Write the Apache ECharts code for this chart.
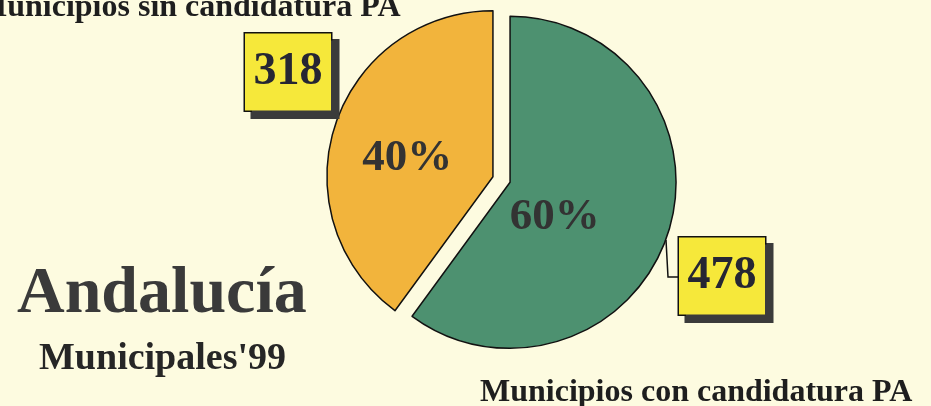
<!DOCTYPE html>
<html><head><meta charset="utf-8">
<script src="https://cdn.jsdelivr.net/npm/echarts@6/dist/echarts.min.js"></script>
<style>html,body{margin:0;padding:0;background:#fdfbe0;}#c{width:931px;height:406px;}</style>
</head><body><div id="c"></div>
<script>
var categories = ['Municipios con candidatura PA', 'Municipios sin candidatura PA'];
var counts = [478, 318];
var percentLabels = ['60%', '40%'];
var sliceColors = ['#4d9170', '#f2b43c'];
var titleMain = 'Andalucía';
var titleSub = "Municipales'99";

var chart = echarts.init(document.getElementById('c'));
var serif = '"Liberation Serif", "Times New Roman", serif';
var pctShift = [[-37, 8], [-4, 8]];
var boxPos = [[722, 276], [288, 72]];

chart.setOption({
  backgroundColor: '#fdfbe0',
  animation: false,
  title: [
    {text: titleMain, left: 12, top: 257, textStyle: {fontFamily: serif, fontSize: 66, fontWeight: 'bold', color: '#3a3a3a'}},
    {text: titleSub, left: 34, top: 335, textStyle: {fontFamily: serif, fontSize: 38, fontWeight: 'bold', color: '#262626'}},
    {text: categories[1], left: -28, top: -13, textStyle: {fontFamily: serif, fontSize: 32, fontWeight: 'bold', color: '#1e1e1e'}},
    {text: categories[0], left: 475, top: 372, textStyle: {fontFamily: serif, fontSize: 32, fontWeight: 'bold', color: '#1e1e1e'}}
  ],
  series: [
    {
      type: 'pie',
      center: [501.5, 179.5],
      radius: 166,
      startAngle: 90,
      clockwise: true,
      selectedMode: 'multiple',
      selectedOffset: 9,
      emphasis: {disabled: true},
      silent: true,
      itemStyle: {borderColor: '#111', borderWidth: 1.5},
      label: {
        show: true, position: 'inside',
        formatter: function (p) { return percentLabels[p.dataIndex]; },
        fontFamily: serif, fontSize: 45, fontWeight: 'bold', color: '#333'
      },
      labelLayout: function (p) {
        return {dx: pctShift[p.dataIndex][0], dy: pctShift[p.dataIndex][1]};
      },
      labelLine: {show: false},
      data: counts.map(function (v, i) {
        return {name: categories[i], value: v, selected: true, itemStyle: {color: sliceColors[i]}};
      })
    },
    {
      type: 'pie',
      center: [501.5, 179.5],
      radius: 166,
      startAngle: 90,
      clockwise: true,
      emphasis: {disabled: true},
      silent: true,
      itemStyle: {color: 'rgba(0,0,0,0)', borderWidth: 0},
      label: {
        show: true, position: 'outside',
        formatter: function (p) { return String(counts[p.dataIndex]); },
        fontFamily: serif, fontSize: 46, fontWeight: 'bold', color: '#262633',
        lineHeight: 46,
        backgroundColor: '#f6e83a',
        borderColor: '#111', borderWidth: 1.5,
        padding: [16, 8, 15, 8],
        width: 70, align: 'center',
        shadowColor: '#3b3b3b', shadowBlur: 0, shadowOffsetX: 7, shadowOffsetY: 7
      },
      labelLine: {show: true, lineStyle: {color: '#111', width: 1.5}},
      labelLayout: function (p) {
        var i = p.dataIndex;
        var r = {x: boxPos[i][0], y: boxPos[i][1], align: 'center', verticalAlign: 'middle'};
        if (i === 0) { r.labelLinePoints = [[666, 240], [668, 277], [679, 277]]; }
        return r;
      },
      data: counts.map(function (v, i) {
        return {name: categories[i], value: v, labelLine: {show: i === 0}};
      })
    }
  ]
});
</script>
</body></html>
